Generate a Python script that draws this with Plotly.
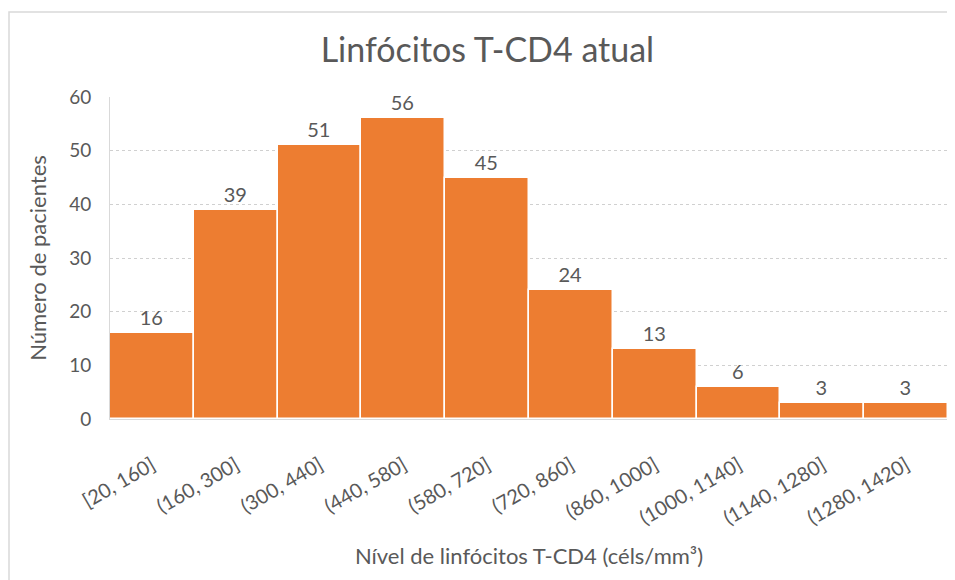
import plotly.graph_objects as go

categories = ["[20, 160]", "(160, 300]", "(300, 440]", "(440, 580]", "(580, 720]",
              "(720, 860]", "(860, 1000]", "(1000, 1140]", "(1140, 1280]", "(1280, 1420]"]
patients = [16, 39, 51, 56, 45, 24, 13, 6, 3, 3]
y_ticks = [0, 10, 20, 30, 40, 50, 60]

title_text = "Linfócitos T-CD4 atual"
x_title = "Nível de linfócitos T-CD4 (céls/mm³)"
y_title = "Número de pacientes"

FONT = "Lato, Carlito, Calibri, sans-serif"
TXT = "#595959"

fig = go.Figure()
fig.add_trace(go.Bar(
    x=categories, y=patients,
    marker=dict(color="#ED7D31", line=dict(color="white", width=1.5)),
    text=[str(v) for v in patients], textposition="outside",
    textfont=dict(family=FONT, size=20, color=TXT),
    cliponaxis=False,
))

fig.update_layout(
    width=955, height=580,
    paper_bgcolor="white", plot_bgcolor="white",
    margin=dict(l=102, r=15, t=89, b=169, autoexpand=False),
    bargap=0,
    showlegend=False,
    font=dict(family=FONT, color=TXT),
    title=dict(text=title_text, x=0.502, xanchor="center", y=0.928, yanchor="middle",
               font=dict(family=FONT, size=34, color=TXT)),
    shapes=[dict(type="rect", xref="paper", yref="paper",
                 x0=-101/838, x1=900/838, y0=-250/322, y1=(411-4)/322,
                 line=dict(color="#d9d9d9", width=1.5), layer="below")],
)

fig.update_xaxes(
    automargin=False,
    tickangle=-30, tickfont=dict(family=FONT, size=20, color=TXT),
    ticks="outside", ticklen=26, tickcolor="rgba(0,0,0,0)",
    showline=True, linecolor="#d9d9d9", linewidth=1,
    title=dict(text=x_title, font=dict(family=FONT, size=22, color=TXT), standoff=20),
)
fig.update_yaxes(
    automargin=False,
    range=[0, 60], tickvals=y_ticks,
    tickfont=dict(family=FONT, size=19, color=TXT),
    ticks="outside", ticklen=14, tickcolor="rgba(0,0,0,0)",
    showgrid=True, gridcolor="#d0d0d0", griddash="dot", gridwidth=1,
    showline=True, linecolor="#d9d9d9", linewidth=1,
    zeroline=False,
    title=dict(text=y_title, font=dict(family=FONT, size=22, color=TXT), standoff=16),
)

fig.write_html("out.html")
